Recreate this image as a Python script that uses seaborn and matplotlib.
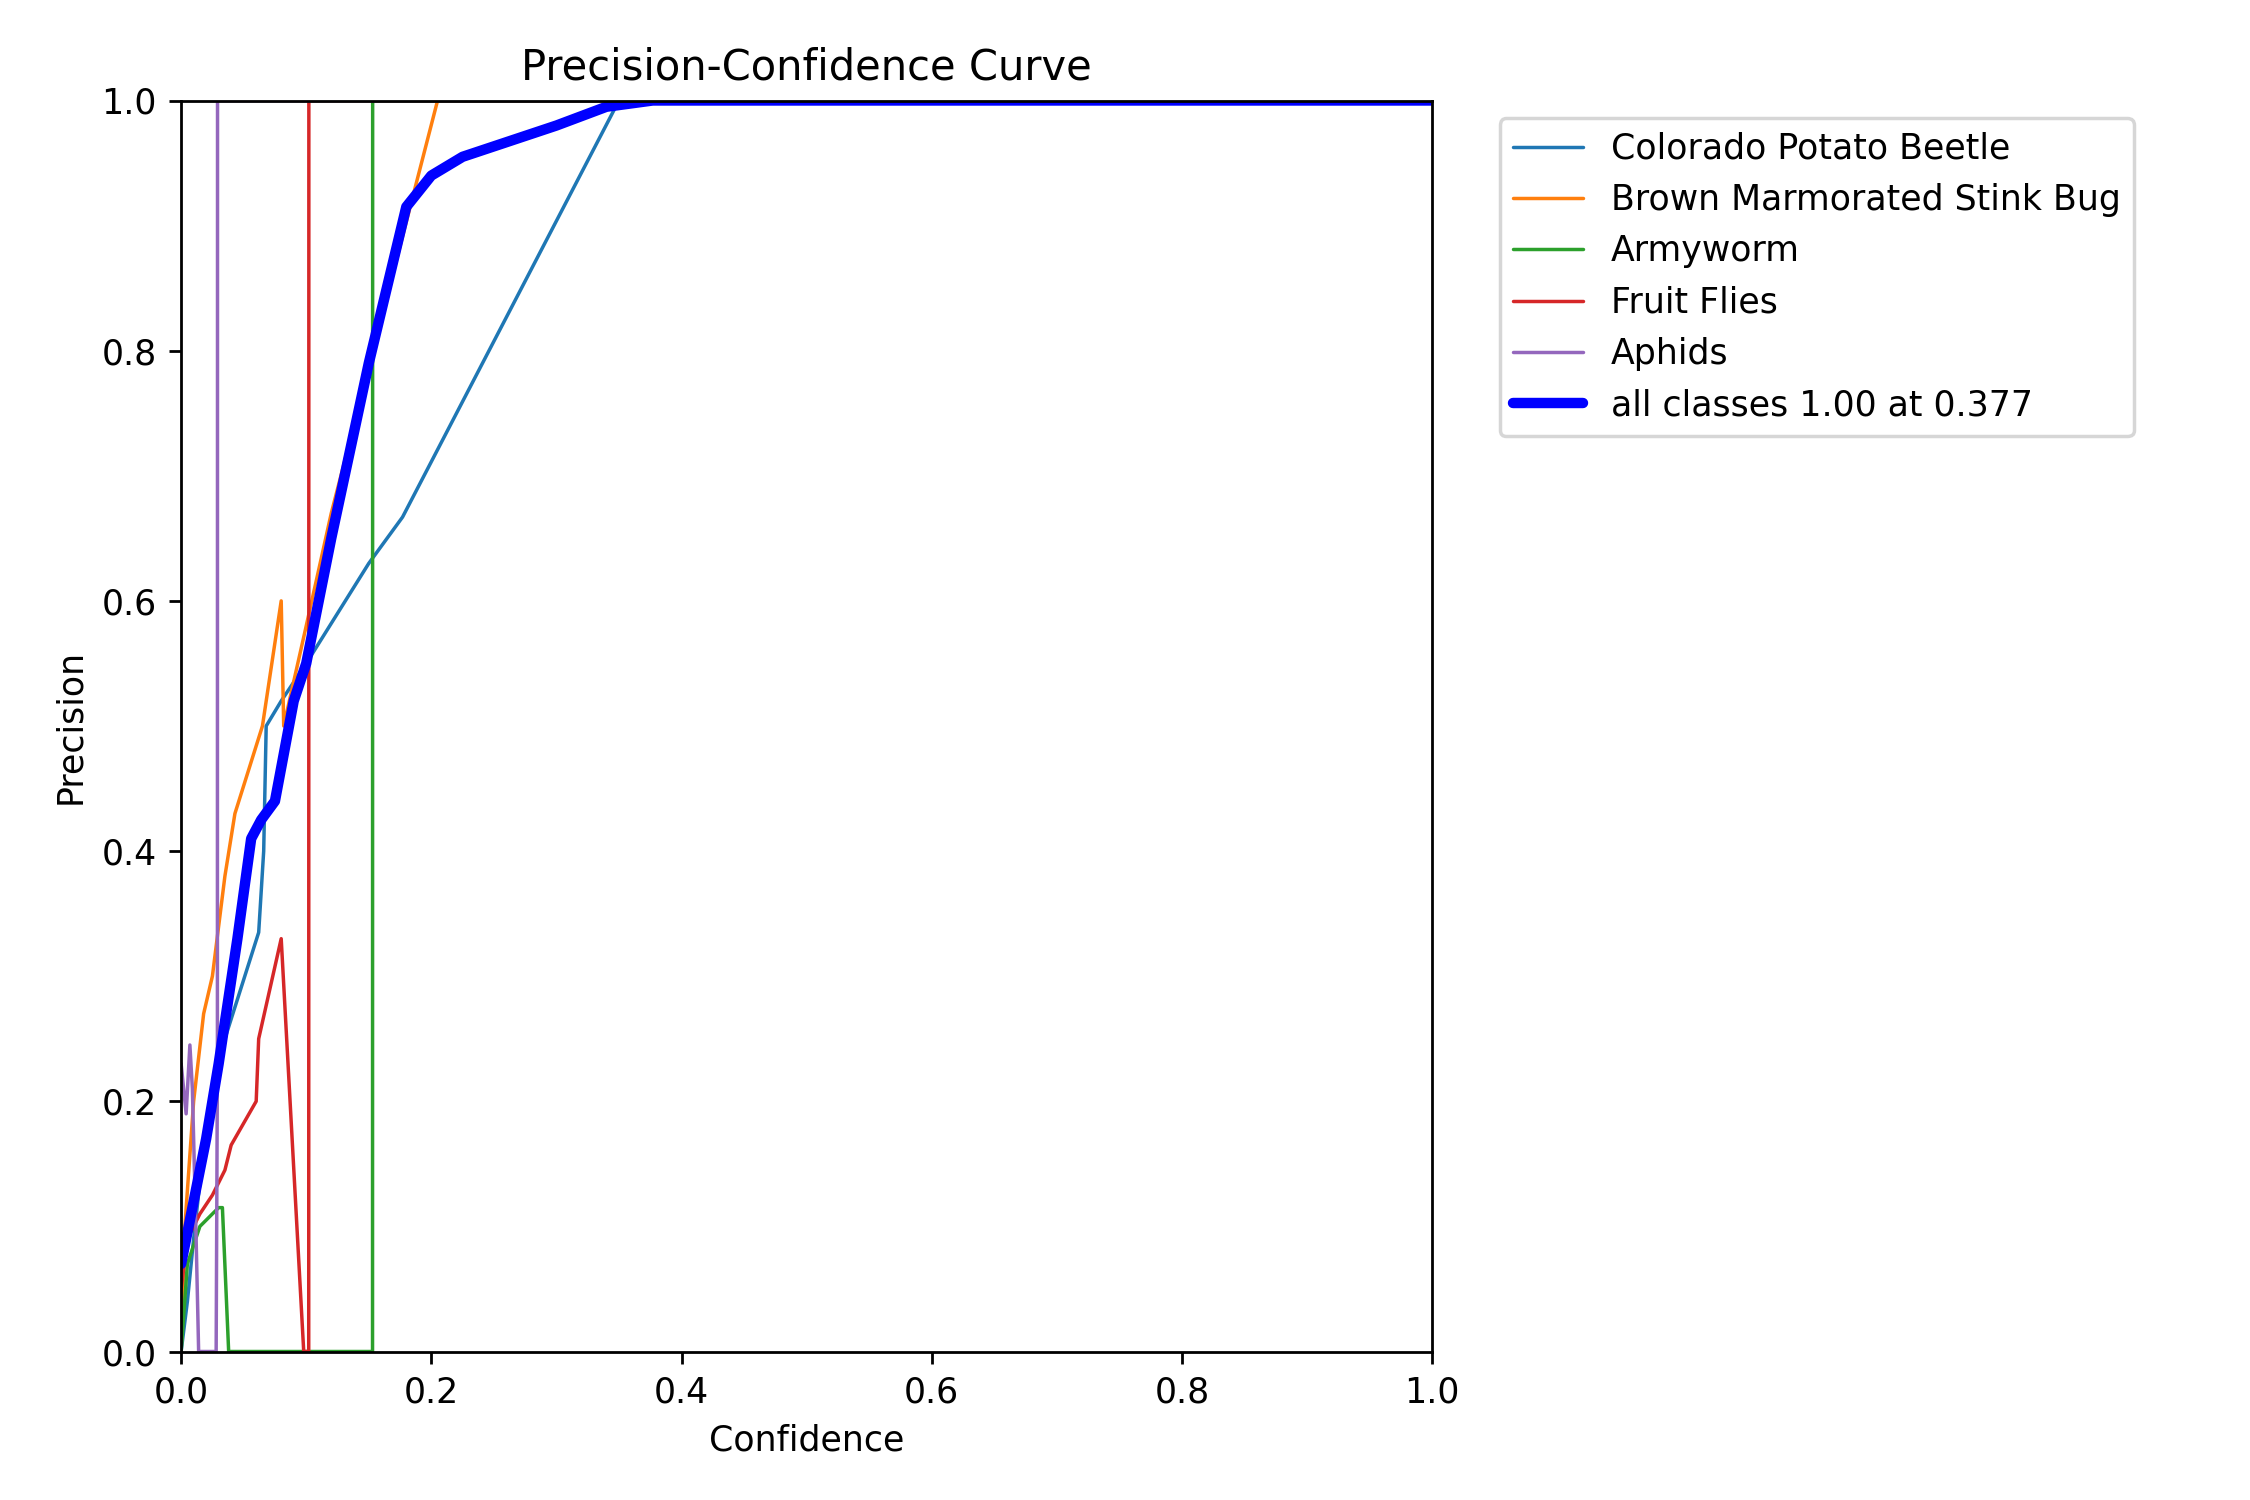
import matplotlib
matplotlib.use("Agg")
import matplotlib.pyplot as plt
import seaborn as sns
import pandas as pd

sns.set_style("ticks")
plt.rcParams['font.family'] = ['DejaVu Sans']
for k in ['text.color', 'axes.labelcolor', 'xtick.color', 'ytick.color', 'axes.edgecolor']:
    plt.rcParams[k] = 'black'

names = ["Colorado Potato Beetle", "Brown Marmorated Stink Bug", "Armyworm", "Fruit Flies", "Aphids"]
colors = ["#1f77b4", "#ff7f0e", "#2ca02c", "#d62728", "#9467bd"]

cpb_x = [0.0, 0.005, 0.01, 0.02, 0.035, 0.062, 0.066, 0.068, 0.08, 0.1, 0.15, 0.177, 0.35, 1.0]
cpb_y = [0.0, 0.04, 0.09, 0.18, 0.25, 0.335, 0.40, 0.50, 0.52, 0.55, 0.63, 0.667, 1.0, 1.0]
bms_x = [0.0, 0.003, 0.01, 0.018, 0.025, 0.035, 0.043, 0.065, 0.08, 0.082, 0.1, 0.12, 0.205, 1.0]
bms_y = [0.0, 0.1, 0.2, 0.27, 0.30, 0.38, 0.43, 0.50, 0.60, 0.50, 0.58, 0.67, 1.0, 1.0]
arm_x = [0.0, 0.005, 0.015, 0.03, 0.033, 0.038, 0.153, 0.1531, 1.0]
arm_y = [0.0, 0.07, 0.10, 0.115, 0.115, 0.0, 0.0, 1.0, 1.0]
ff_x = [0.0, 0.005, 0.015, 0.025, 0.035, 0.04, 0.06, 0.062, 0.08, 0.098, 0.102, 0.1021, 1.0]
ff_y = [0.05, 0.09, 0.11, 0.125, 0.145, 0.165, 0.2, 0.25, 0.33, 0.0, 0.0, 1.0, 1.0]
aph_x = [0.0, 0.004, 0.007, 0.009, 0.012, 0.014, 0.028, 0.029, 0.0291, 1.0]
aph_y = [0.23, 0.19, 0.245, 0.21, 0.09, 0.0, 0.0, 0.23, 1.0, 1.0]
all_x = [0.0, 0.01, 0.02, 0.03, 0.045, 0.056, 0.064, 0.075, 0.09, 0.1, 0.12, 0.15, 0.18, 0.2, 0.225, 0.3, 0.34, 0.377, 1.0]
all_y = [0.07, 0.12, 0.17, 0.23, 0.33, 0.41, 0.425, 0.44, 0.52, 0.55, 0.65, 0.79, 0.915, 0.94, 0.955, 0.98, 0.995, 1.0, 1.0]

series = [(cpb_x, cpb_y), (bms_x, bms_y), (arm_x, arm_y), (ff_x, ff_y), (aph_x, aph_y)]

fig, ax = plt.subplots(figsize=(9, 6), dpi=250)
for (xs, ys), n, c in zip(series, names, colors):
    df = pd.DataFrame({"x": xs, "y": ys})
    sns.lineplot(data=df, x="x", y="y", ax=ax, color=c, linewidth=1, label=n, sort=False, estimator=None)
dfa = pd.DataFrame({"x": all_x, "y": all_y})
sns.lineplot(data=dfa, x="x", y="y", ax=ax, color="blue", linewidth=3, label="all classes 1.00 at 0.377", sort=False, estimator=None)

ax.set_xlim(0, 1)
ax.set_ylim(0, 1)
ax.set_aspect("equal")
ax.set_xlabel("Confidence")
ax.set_ylabel("Precision")
ax.set_title("Precision-Confidence Curve")
ax.legend(bbox_to_anchor=(1.04, 1), loc="upper left")
fig.subplots_adjust(left=0.08, right=0.637, top=0.933, bottom=0.099)
fig.savefig("out.png", dpi=250)
